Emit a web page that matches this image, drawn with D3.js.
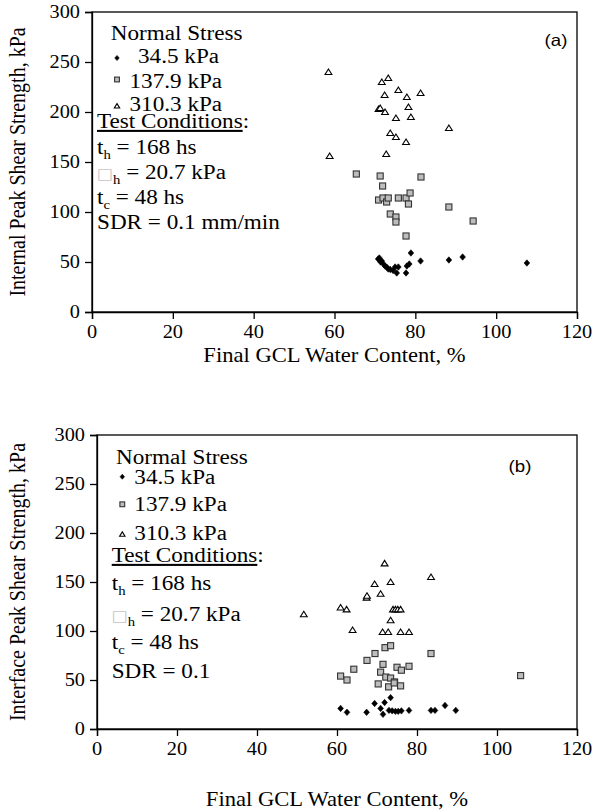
<!DOCTYPE html>
<html><head><meta charset="utf-8">
<script src="https://cdn.jsdelivr.net/npm/d3@7"></script>
<style>body{margin:0;background:#fff} svg{display:block;font-family:'Liberation Serif','Times New Roman',serif}</style>
</head><body>
<script>
// ---------- data ----------
const xTicks = [0, 20, 40, 60, 80, 100, 120];
const yTicks = [0, 50, 100, 150, 200, 250, 300];
const xTitle = "Final GCL Water Content, %";
const seriesNames = ["34.5 kPa", "137.9 kPa", "310.3 kPa"];

// (a) internal peak shear strength
const a345 = [[70.8,53],[71.1,54],[71.4,50],[71.7,51],[72.2,47.5],[72.5,46],[73,44.5],[73.3,43],[73.8,42.5],[74.5,41.5],[75,45],[75.4,39],[75.8,45],[77.7,39],[77.9,46],[78.5,48],[78.9,59],[81.3,51],[88.3,52],[91.7,55],[107.6,49]];
const a1379 = [[65.4,138],[71.3,136],[81.4,135],[71.9,126],[70.9,112],[72,114],[72.9,110],[73.3,114],[75.8,114],[77.7,114],[78.7,119],[78.3,108],[73.8,98],[75.2,95],[75.2,90],[77.7,76],[88.3,105],[94.3,91]];
const a3103 = [[58.5,240],[71.7,230],[73.3,234],[72.4,217],[75.8,222],[77.9,215],[81.3,219],[70.9,203],[71.3,204],[72.5,200],[78.3,205],[75.2,194],[78.9,195],[73.8,179],[75.2,175],[77.7,170],[58.8,156],[72.8,158],[88.3,184]];

// (b) interface peak shear strength
const b345 = [[60.9,21],[62.5,17],[67.4,17],[69.4,26],[70.9,21],[71.9,27],[73.4,32],[71.5,15],[73,19],[73.8,18.5],[74.6,18],[75.3,18],[76.1,18.5],[78,19],[83.5,19],[84.5,19],[87,24],[89.7,19]];
const b1379 = [[60.9,54],[62.5,50],[64.2,61],[67.5,70],[69.5,77],[72,83],[73.4,85],[71.5,66],[70.9,58],[72.2,53],[73.4,52],[70.3,46],[72.9,43],[74.4,48],[74.3,47],[75,63],[76.1,60],[78,64],[75.9,44],[83.5,77],[105.9,54.5]];
const b3103 = [[51.7,117],[60.9,124],[62.4,122],[63.9,101],[67.4,134],[67.5,136],[69.4,148],[70.9,138],[71.9,169],[73.4,150],[73.4,111],[71.4,99],[72.8,99],[74,122],[74.6,122],[75.2,122],[75.9,122],[75.9,99],[78,99],[83.5,155]];

// ---------- drawing ----------
const SX = 1.13;           // horizontal stretch of glyphs seen in the reference
const SERIF = "'Liberation Serif','Times New Roman',serif";
const svg = d3.select("body").append("svg").attr("width", 595).attr("height", 811)
  .attr("font-family", SERIF);

function txt(x, y, size, anchor, family) {
  return svg.append("text")
    .attr("transform", `translate(${x},${y}) scale(${SX},1)`)
    .attr("font-family", family || SERIF).attr("font-size", size)
    .attr("text-anchor", anchor || "start").attr("fill", "#000");
}

function marker(g, type, x, y, s) {
  s = s || 1;
  if (type === 0) {
    g.append("path").attr("d", `M${x},${y-3.4*s}L${x+3*s},${y}L${x},${y+3.4*s}L${x-3*s},${y}Z`)
      .attr("fill", "#000").attr("stroke", "#000").attr("stroke-width", 0.6);
  } else if (type === 1) {
    g.append("rect").attr("x", x-3.2*s).attr("y", y-3.2*s).attr("width", 6.4*s).attr("height", 6.4*s)
      .attr("fill", "#bdbdbd").attr("stroke", "#333").attr("stroke-width", 1.1);
  } else {
    g.append("path").attr("d", `M${x},${y-3.2*s}L${x+3.6*s},${y+2.6*s}L${x-3.6*s},${y+2.6*s}Z`)
      .attr("fill", "#fff").attr("stroke", "#000").attr("stroke-width", 1.1);
  }
}

function panel(p) {
  const x = d3.scaleLinear().domain([0, 120]).range([p.left, p.right]);
  const y = d3.scaleLinear().domain([0, 300]).range([p.bottom, p.top]);
  const g = svg.append("g");

  g.append("rect").attr("x", p.left).attr("y", p.top)
    .attr("width", p.right - p.left).attr("height", p.bottom - p.top)
    .attr("fill", "none").attr("stroke", "#000").attr("stroke-width", 1.3);

  const xa = g.append("g").attr("transform", `translate(0,${p.bottom})`)
    .call(d3.axisBottom(x).tickValues(xTicks).tickSize(7).tickFormat(""));
  const ya = g.append("g").attr("transform", `translate(${p.left},0)`)
    .call(d3.axisLeft(y).tickValues(yTicks).tickSize(7).tickFormat(""));
  [xa, ya].forEach(a => { a.select(".domain").attr("stroke", "#000").attr("stroke-width", 1.3);
    a.selectAll(".tick line").attr("stroke", "#000").attr("stroke-width", 1.3); });

  xTicks.forEach(v => txt(x(v), p.bottom + 26, 18, "middle").text(v));
  yTicks.forEach(v => txt(p.left - 12, y(v) + 6, 18, "end").text(v));

  txt((p.left + p.right) / 2, p.xTitleY, 20, "middle").text(xTitle);
  svg.append("text")
    .attr("transform", `translate(25,${(p.top + p.bottom) / 2}) rotate(-90) scale(1,${SX})`)
    .attr("font-family", SERIF).attr("font-size", 20).attr("text-anchor", "middle")
    .text(p.yTitle);

  txt(p.tagX, p.tagY, 16.5, "middle", "'Liberation Sans',Arial,sans-serif").text(p.tag);

  p.data.forEach((ser, i) => ser.forEach(d => marker(g, i, x(d[0]), y(d[1]), 0.95)));

  const L = p.leg, F = 20.5;
  txt(L.nsX, L.nsY, F).text("Normal Stress");
  seriesNames.forEach((n, i) => {
    marker(g, i, L.mX, L.mY[i], 0.75);
    txt(L.tX[i], L.tY[i], F).text(n);
  });
  const tc = txt(L.cX, L.cY[0], F);
  tc.append("tspan").attr("text-decoration", "underline").text("Test Conditions");
  tc.append("tspan").text(":");
  const t1 = txt(L.cX, L.cY[1], F);
  t1.append("tspan").text("t");
  t1.append("tspan").attr("font-size", 13).attr("dy", 5).text("h");
  t1.append("tspan").attr("dy", -5).text(" = 168 hs");
  const t2 = txt(L.cX, L.cY[2], F);
  t2.append("tspan").attr("fill", "#c4c4c4").attr("font-family", "'DejaVu Sans'").attr("font-size", 15).text("\u25A1");
  t2.append("tspan").attr("font-size", 13).attr("dy", 5).text("h");
  t2.append("tspan").attr("dy", -5).text(" = 20.7 kPa");
  const t3 = txt(L.cX, L.cY[3], F);
  t3.append("tspan").text("t");
  t3.append("tspan").attr("font-size", 13).attr("dy", 5).text("c");
  t3.append("tspan").attr("dy", -5).text(" = 48 hs");
  txt(L.cX, L.cY[4], F).text(p.sdr);
}

panel({
  left: 92, right: 577, top: 12, bottom: 312, xTitleY: 362,
  yTitle: "Internal Peak Shear Strength, kPa", tag: "(a)", tagX: 556, tagY: 46,
  data: [a345, a1379, a3103], sdr: "SDR = 0.1 mm/min",
  leg: { nsX: 110.7, nsY: 40, mX: 117, mY: [58, 79.5, 106], tX: [138, 129.5, 129.5], tY: [63, 87.5, 111],
         cX: 97, cY: [128, 153.5, 178.5, 203.5, 228.5] }
});
panel({
  left: 97, right: 577, top: 435, bottom: 729, xTitleY: 806,
  yTitle: "Interface Peak Shear Strength, kPa", tag: "(b)", tagX: 520, tagY: 472,
  data: [b345, b1379, b3103], sdr: "SDR = 0.1",
  leg: { nsX: 116, nsY: 463.5, mX: 122.3, mY: [476.7, 504.3, 534.3], tX: [134.3, 134.3, 134.3], tY: [483.5, 511, 540],
         cX: 111.7, cY: [562, 590, 620.5, 649, 678] }
});
</script>
</body></html>
